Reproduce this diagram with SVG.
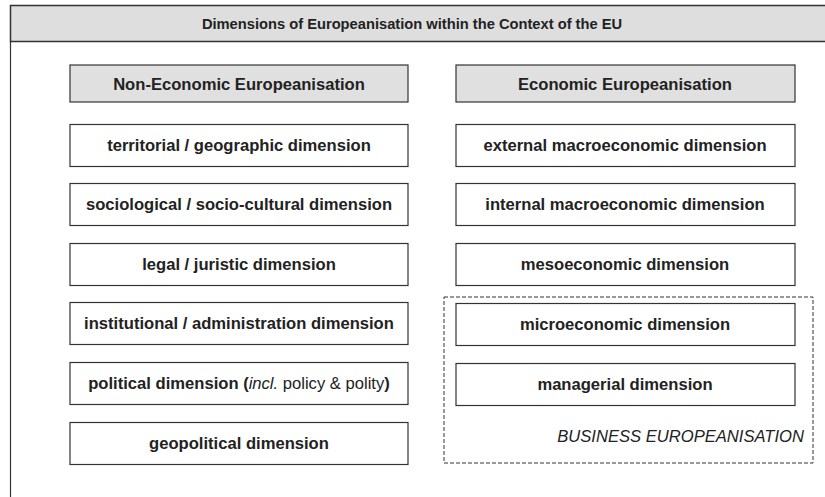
<svg xmlns="http://www.w3.org/2000/svg" width="825" height="497" viewBox="0 0 825 497">
<style>
.box{fill:#fff;stroke:#333;stroke-width:1.2}
.hdr{fill:#e0e0e0;stroke:#333;stroke-width:1.2}
.t{font-family:"Liberation Sans",Arial,sans-serif;font-size:16.6px;font-weight:bold;fill:#222;text-anchor:middle}
.ttl{font-family:"Liberation Sans",Arial,sans-serif;font-size:14.7px;font-weight:bold;fill:#222;text-anchor:middle}
</style>
<rect width="825" height="497" fill="#fff"/>
<g id="frame">
<rect x="10.5" y="5.5" width="820" height="36" fill="#dedede" stroke="#333" stroke-width="1.5"/>
<line x1="10.5" y1="41" x2="10.5" y2="497" stroke="#333" stroke-width="1.2"/>
<text class="ttl" x="412" y="28.5">Dimensions of Europeanisation within the Context of the EU</text>
</g>
<g id="business-group">
<rect x="444" y="297" width="369" height="166" fill="none" stroke="#333" stroke-width="1" stroke-dasharray="4,2"/>
<text x="804" y="442" font-family="'Liberation Sans',Arial,sans-serif" font-size="16.6" font-style="italic" fill="#222" text-anchor="end">BUSINESS EUROPEANISATION</text>
</g>
<g id="non-economic">
<rect class="hdr" x="70" y="65" width="338" height="37"/>
<text class="t" x="239" y="89.5">Non-Economic Europeanisation</text>
</g>
<g id="economic">
<rect class="hdr" x="456" y="65" width="339" height="37"/>
<text class="t" x="625" y="89.5">Economic Europeanisation</text>
</g>
<g id="territorial">
<rect class="box" x="70" y="124.5" width="338" height="42"/>
<text class="t" x="239" y="150.5">territorial / geographic dimension</text>
</g>
<g id="sociological">
<rect class="box" x="70" y="183.5" width="338" height="42"/>
<text class="t" x="239" y="209.5">sociological / socio-cultural dimension</text>
</g>
<g id="legal">
<rect class="box" x="70" y="243.5" width="338" height="42"/>
<text class="t" x="239" y="269.5">legal / juristic dimension</text>
</g>
<g id="institutional">
<rect class="box" x="70" y="302.5" width="338" height="42"/>
<text class="t" x="239" y="328.5">institutional / administration dimension</text>
</g>
<g id="political">
<rect class="box" x="70" y="362.5" width="338" height="42"/>
<text class="t" x="239" y="388.5">political dimension (<tspan font-style="italic" font-weight="normal">incl.</tspan><tspan font-weight="normal"> policy &amp; polity</tspan>)</text>
</g>
<g id="geopolitical">
<rect class="box" x="70" y="422.5" width="338" height="42"/>
<text class="t" x="239" y="448.5">geopolitical dimension</text>
</g>
<g id="external">
<rect class="box" x="456" y="124.5" width="339" height="42"/>
<text class="t" x="625" y="150.5">external macroeconomic dimension</text>
</g>
<g id="internal">
<rect class="box" x="456" y="183.5" width="339" height="42"/>
<text class="t" x="625" y="209.5">internal macroeconomic dimension</text>
</g>
<g id="meso">
<rect class="box" x="456" y="243.5" width="339" height="42"/>
<text class="t" x="625" y="269.5">mesoeconomic dimension</text>
</g>
<g id="micro">
<rect class="box" x="456" y="303.5" width="339" height="42"/>
<text class="t" x="625" y="329.5">microeconomic dimension</text>
</g>
<g id="managerial">
<rect class="box" x="456" y="363.5" width="339" height="42"/>
<text class="t" x="625" y="389.5">managerial dimension</text>
</g>
<g id="connectors"></g>
</svg>
